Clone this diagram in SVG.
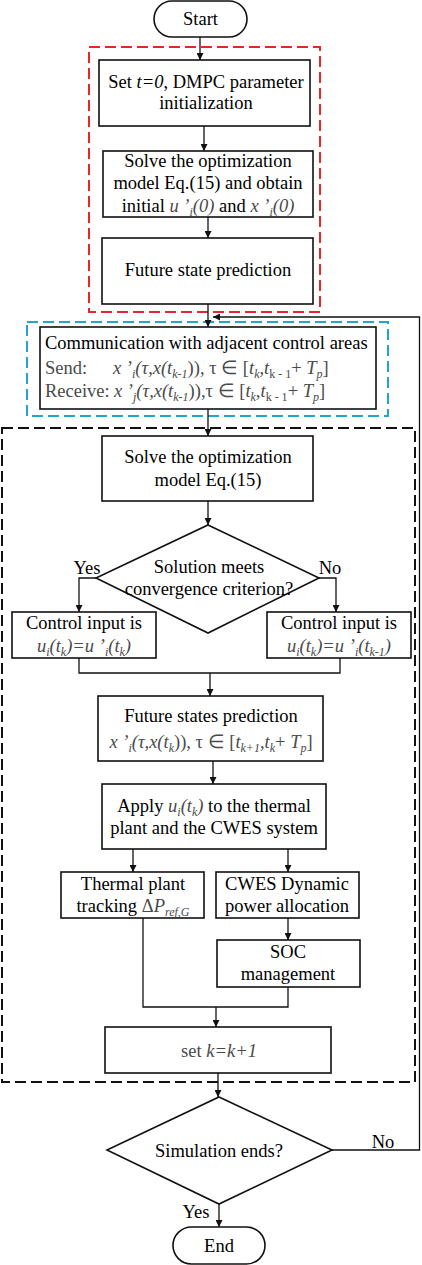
<svg xmlns="http://www.w3.org/2000/svg" width="422" height="1265" viewBox="0 0 422 1265">
<style>
text{font-family:"Liberation Serif","Times New Roman",serif;font-size:18.5px;fill:#000}
.c{text-anchor:middle}
.m{fill:#4a4a4a;font-style:italic}
.g{fill:#4a4a4a;font-style:normal}
.s{font-size:12px}
.box{fill:#fff;stroke:#111;stroke-width:1.6}
.ln{fill:none;stroke:#111;stroke-width:1.3}
.red{fill:none;stroke:#e8262b;stroke-width:2;stroke-dasharray:11 5}
.cyan{fill:none;stroke:#1ea9cc;stroke-width:2;stroke-dasharray:11 5}
.blk{fill:none;stroke:#111;stroke-width:2;stroke-dasharray:11 5}
</style>
<defs>
<marker id="ah" viewBox="0 0 10 10" refX="10" refY="5" markerWidth="7" markerHeight="7" markerUnits="userSpaceOnUse" orient="auto">
<path d="M0,0 L10,5 L0,10 z" fill="#111"/>
</marker>
</defs>

<g id="groups">
<rect class="red" x="89" y="47" width="231" height="265"/>
<rect class="cyan" x="27" y="322" width="361" height="94"/>
<rect class="blk" x="2" y="428" width="413" height="654"/>
</g>

<g id="connectors">
<line class="ln" x1="200" y1="37" x2="200" y2="60" marker-end="url(#ah)"/>
<line class="ln" x1="204" y1="126" x2="204" y2="151" marker-end="url(#ah)"/>
<line class="ln" x1="208" y1="217" x2="208" y2="238" marker-end="url(#ah)"/>
<line class="ln" x1="208" y1="304" x2="208" y2="327" marker-end="url(#ah)"/>
<line class="ln" x1="208" y1="409" x2="208" y2="436" marker-end="url(#ah)"/>
<line class="ln" x1="208" y1="501" x2="208" y2="525" marker-end="url(#ah)"/>
<polyline class="ln" points="96,578 79,578 79,612" marker-end="url(#ah)"/>
<polyline class="ln" points="319,578 336,578 336,612" marker-end="url(#ah)"/>
<polyline class="ln" points="79,658 79,673 340,673 340,658"/>
<line class="ln" x1="210" y1="673" x2="210" y2="696" marker-end="url(#ah)"/>
<line class="ln" x1="213" y1="761" x2="213" y2="784" marker-end="url(#ah)"/>
<line class="ln" x1="133" y1="849" x2="133" y2="872" marker-end="url(#ah)"/>
<line class="ln" x1="288" y1="849" x2="288" y2="872" marker-end="url(#ah)"/>
<line class="ln" x1="288" y1="918" x2="288" y2="940" marker-end="url(#ah)"/>
<polyline class="ln" points="143,918 143,1007 288,1007 288,987"/>
<line class="ln" x1="216" y1="1007" x2="216" y2="1027" marker-end="url(#ah)"/>
<line class="ln" x1="218" y1="1073" x2="218" y2="1097" marker-end="url(#ah)"/>
<line class="ln" x1="219" y1="1204" x2="219" y2="1227" marker-end="url(#ah)"/>
<polyline class="ln" points="332,1150 419.5,1150 419.5,317 213,317" marker-end="url(#ah)"/>
<text x="87" y="574" class="c">Yes</text>
<text x="330" y="574" class="c">No</text>
<text x="383" y="1148" class="c">No</text>
<text x="196" y="1218" class="c">Yes</text>
</g>

<g id="start">
<rect class="box" x="154" y="1" width="93" height="36" rx="18"/>
<text x="200.5" y="25" class="c">Start</text>
</g>

<g id="init">
<rect class="box" x="99" y="60" width="211" height="66"/>
<text x="206" y="88" class="c">Set <tspan font-style="italic">t=0</tspan>, DMPC parameter</text>
<text x="206" y="109" class="c">initialization</text>
</g>

<g id="solve0">
<rect class="box" x="103" y="151" width="210" height="66"/>
<text x="208" y="167" class="c">Solve the optimization</text>
<text x="208" y="189" class="c">model Eq.(15) and obtain</text>
<text x="208" y="212" class="c">initial <tspan class="m">u ’</tspan><tspan class="m s" dy="4">i</tspan><tspan class="m" dy="-4">(0)</tspan> and <tspan class="m">x ’</tspan><tspan class="m s" dy="4">i</tspan><tspan class="m" dy="-4">(0)</tspan></text>
</g>

<g id="predict0">
<rect class="box" x="102" y="238" width="211" height="66"/>
<text x="208" y="276" class="c">Future state prediction</text>
</g>

<g id="comm">
<rect class="box" x="40" y="327" width="336" height="82"/>
<text x="45" y="349">Communication with adjacent control areas</text>
<text x="45" y="374"><tspan class="g">Send:</tspan><tspan x="113" class="m">x ’</tspan><tspan class="m s" dy="4">i</tspan><tspan class="m" dy="-4">(τ,x(t</tspan><tspan class="m s" dy="4">k-1</tspan><tspan class="g" dy="-4">)), τ ∈ [</tspan><tspan class="m">t</tspan><tspan class="m s" dy="4">k</tspan><tspan class="m" dy="-4">,t</tspan><tspan class="g s" dy="4">k - 1</tspan><tspan class="g" dy="-4">+ </tspan><tspan class="m">T</tspan><tspan class="m s" dy="4">p</tspan><tspan class="g" dy="-4">]</tspan></text>
<text x="45" y="397"><tspan class="g">Receive:</tspan><tspan x="114" class="m">x ’</tspan><tspan class="m s" dy="4">j</tspan><tspan class="m" dy="-4">(τ,x(t</tspan><tspan class="m s" dy="4">k-1</tspan><tspan class="g" dy="-4">)),τ ∈ [</tspan><tspan class="m">t</tspan><tspan class="m s" dy="4">k</tspan><tspan class="m" dy="-4">,t</tspan><tspan class="g s" dy="4">k - 1</tspan><tspan class="g" dy="-4">+ </tspan><tspan class="m">T</tspan><tspan class="m s" dy="4">p</tspan><tspan class="g" dy="-4">]</tspan></text>
</g>

<g id="solve">
<rect class="box" x="102" y="436" width="211" height="65"/>
<text x="208" y="463" class="c">Solve the optimization</text>
<text x="208" y="486" class="c">model Eq.(15)</text>
</g>

<g id="converge">
<polygon class="box" points="208,525 319,578 208,633 96,578"/>
<text x="209" y="573" class="c">Solution meets</text>
<text x="209" y="595" class="c">convergence criterion?</text>
</g>

<g id="ctrlYes">
<rect class="box" x="12" y="612" width="144" height="46"/>
<text x="84" y="629" class="c">Control input is</text>
<text x="84" y="652" class="c"><tspan class="m">u</tspan><tspan class="m s" dy="4">i</tspan><tspan class="m" dy="-4">(t</tspan><tspan class="m s" dy="4">k</tspan><tspan class="m" dy="-4">)=u ’</tspan><tspan class="m s" dy="4">i</tspan><tspan class="m" dy="-4">(t</tspan><tspan class="m s" dy="4">k</tspan><tspan class="m" dy="-4">)</tspan></text>
</g>

<g id="ctrlNo">
<rect class="box" x="267" y="612" width="144" height="46"/>
<text x="339" y="629" class="c">Control input is</text>
<text x="339" y="652" class="c"><tspan class="m">u</tspan><tspan class="m s" dy="4">i</tspan><tspan class="m" dy="-4">(t</tspan><tspan class="m s" dy="4">k</tspan><tspan class="m" dy="-4">)=u ’</tspan><tspan class="m s" dy="4">i</tspan><tspan class="m" dy="-4">(t</tspan><tspan class="m s" dy="4">k-1</tspan><tspan class="m" dy="-4">)</tspan></text>
</g>

<g id="predict">
<rect class="box" x="98" y="696" width="225" height="65"/>
<text x="211" y="722" class="c">Future states prediction</text>
<text x="211" y="748" class="c"><tspan class="m">x ’</tspan><tspan class="m s" dy="4">i</tspan><tspan class="m" dy="-4">(τ,x(t</tspan><tspan class="m s" dy="4">k</tspan><tspan class="g" dy="-4">)), τ ∈ [</tspan><tspan class="m">t</tspan><tspan class="m s" dy="4">k+1</tspan><tspan class="m" dy="-4">,t</tspan><tspan class="m s" dy="4">k</tspan><tspan class="g" dy="-4">+ </tspan><tspan class="m">T</tspan><tspan class="m s" dy="4">p</tspan><tspan class="g" dy="-4">]</tspan></text>
</g>

<g id="apply">
<rect class="box" x="102" y="784" width="224" height="65"/>
<text x="214" y="812" class="c">Apply <tspan class="m">u</tspan><tspan class="m s" dy="4">i</tspan><tspan class="m" dy="-4">(t</tspan><tspan class="m s" dy="4">k</tspan><tspan class="m" dy="-4">)</tspan> to the thermal</text>
<text x="214" y="834" class="c">plant and the CWES system</text>
</g>

<g id="thermal">
<rect class="box" x="61" y="872" width="143" height="46"/>
<text x="133" y="890" class="c">Thermal plant</text>
<text x="133" y="912" class="c">tracking <tspan class="g">Δ</tspan><tspan class="m">P</tspan><tspan class="m s" dy="4">ref,G</tspan></text>
</g>

<g id="cwes">
<rect class="box" x="216" y="872" width="143" height="46"/>
<text x="287" y="890" class="c">CWES Dynamic</text>
<text x="287" y="912" class="c">power allocation</text>
</g>

<g id="soc">
<rect class="box" x="217" y="940" width="143" height="47"/>
<text x="288" y="958" class="c">SOC</text>
<text x="288" y="980" class="c">management</text>
</g>

<g id="setk">
<rect class="box" x="105" y="1027" width="226" height="46"/>
<text x="219" y="1057" class="c"><tspan class="g">set </tspan><tspan class="m">k=k+1</tspan></text>
</g>

<g id="simEnd">
<polygon class="box" points="219,1097 332,1150 219,1204 107,1150"/>
<text x="219" y="1157" class="c">Simulation ends?</text>
</g>

<g id="end">
<rect class="box" x="173" y="1227" width="92" height="37" rx="18.5"/>
<text x="219" y="1252" class="c">End</text>
</g>
</svg>
